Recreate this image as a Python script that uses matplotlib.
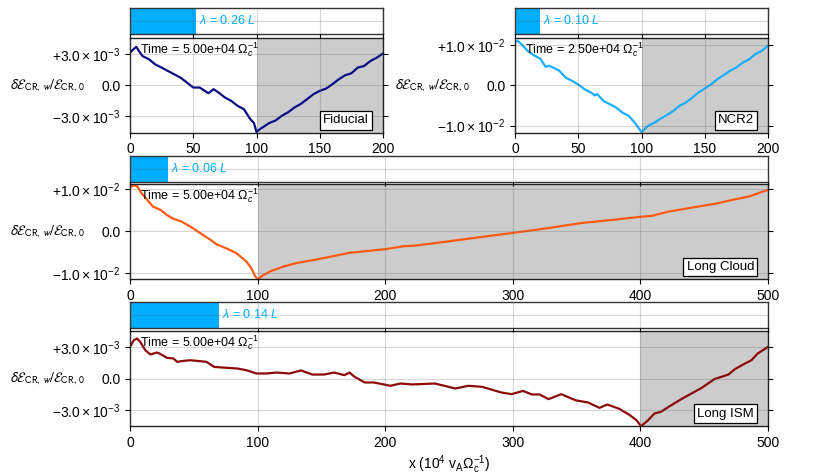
import numpy as np
import matplotlib
matplotlib.use("Agg")
import matplotlib.pyplot as plt
from matplotlib.ticker import FuncFormatter

plt.rcParams["font.family"] = ["Liberation Sans", "DejaVu Sans"]
plt.rcParams["mathtext.fontset"] = "custom"
plt.rcParams["mathtext.rm"] = "Liberation Sans"
plt.rcParams["mathtext.it"] = "Liberation Sans:italic"
plt.rcParams["mathtext.bf"] = "Liberation Sans:bold"
plt.rcParams["mathtext.sf"] = "Liberation Sans"
plt.rcParams["font.size"] = 9.5
plt.rcParams["axes.axisbelow"] = False

# ---- data (y in units of 1e-3 or 1e-2) ----
fid_x = [0, 3, 5, 7, 10, 15, 20, 25, 30, 35, 40, 45, 50, 55, 58, 62, 66, 70, 75,
         80, 85, 90, 95, 98, 100, 103, 105, 110, 115, 120, 125, 130, 135, 140,
         145, 150, 155, 160, 165, 170, 175, 180, 185, 190, 195, 200]
fid_y = np.array([3.13, 3.5, 3.7, 3.3, 2.8, 2.5, 2.0, 1.7, 1.37, 1.05, 0.73, 0.26,
                  -0.22, -0.22, -0.45, -0.77, -0.38, -0.70, -1.18, -1.5, -1.98,
                  -2.3, -3.25, -3.64, -4.5, -4.2, -4.05, -3.64, -3.4, -2.94, -2.6,
                  -2.14, -1.8, -1.34, -0.86, -0.54, -0.32, 0.1, 0.57, 0.96, 1.15,
                  1.7, 1.85, 2.33, 2.65, 3.06]) * 1e-3

ncr_x = [0, 2, 5, 10, 15, 20, 24, 27, 30, 35, 40, 45, 50, 55, 60, 63, 65, 70, 75,
         80, 85, 90, 95, 100, 105, 110, 115, 120, 125, 130, 135, 140, 145, 150,
         155, 160, 165, 170, 175, 180, 185, 190, 195, 200]
ncr_y = np.array([1.07, 1.10, 1.02, 0.85, 0.74, 0.66, 0.46, 0.48, 0.44, 0.36, 0.19,
                  0.11, 0.02, -0.10, -0.18, -0.25, -0.22, -0.39, -0.47, -0.55,
                  -0.68, -0.76, -0.94, -1.16, -1.01, -0.93, -0.83, -0.74, -0.64,
                  -0.51, -0.43, -0.31, -0.18, -0.08, 0.02, 0.15, 0.25, 0.36, 0.44,
                  0.56, 0.64, 0.77, 0.85, 0.98]) * 1e-2

cloud_x = [0, 3, 5.5, 9, 13, 18, 24, 29, 34, 40, 47, 55, 63, 68, 76, 83, 91, 95,
           98, 100, 104, 110, 121, 131, 146, 159, 172, 185, 201, 215, 223, 249,
           276, 299, 328, 354, 380, 401, 409, 422, 445, 461, 469, 485, 500]
cloud_y = np.array([1.05, 1.10, 1.08, 0.91, 0.77, 0.59, 0.51, 0.39, 0.30, 0.24,
                    0.12, -0.04, -0.20, -0.31, -0.41, -0.51, -0.71, -0.87, -1.06,
                    -1.14, -1.05, -0.95, -0.83, -0.75, -0.67, -0.59, -0.51, -0.47,
                    -0.42, -0.35, -0.34, -0.24, -0.13, -0.04, 0.08, 0.20, 0.28,
                    0.35, 0.37, 0.47, 0.59, 0.67, 0.73, 0.83, 0.99]) * 1e-2

ism_x = [0, 3, 5.5, 8, 12, 16, 21, 23, 29, 34, 37, 40, 47, 55, 60, 66, 76, 84, 91,
         99, 107, 115, 125, 134, 143, 152, 160, 168, 172, 176, 184, 191, 199, 204,
         212, 221, 239, 255, 265, 276, 291, 299, 308, 315, 321, 328, 338, 349,
         359, 368, 374, 383, 391, 397, 400.5, 406, 411, 416, 422, 432, 440, 448,
         458, 469, 474, 482, 487, 492, 500]
ism_y = np.array([3.03, 3.67, 3.83, 3.51, 2.71, 2.30, 2.49, 2.40, 1.98, 1.92, 1.59,
                  1.66, 1.75, 1.66, 1.59, 1.11, 1.02, 0.96, 0.80, 0.48, 0.48, 0.57,
                  0.48, 0.77, 0.38, 0.38, 0.57, 0.32, 0.57, 0.16, -0.38, -0.38,
                  -0.57, -0.70, -0.48, -0.57, -0.48, -0.96, -0.70, -0.80, -1.34,
                  -1.50, -1.19, -1.53, -1.53, -1.98, -1.50, -2.08, -2.30, -2.81,
                  -2.49, -2.88, -3.45, -4.0, -4.57, -4.0, -3.35, -3.2, -2.72,
                  -1.98, -1.44, -0.90, -0.06, 0.38, 0.89, 1.44, 1.75, 2.40,
                  3.03]) * 1e-3

names = ["Fiducial", "NCR2", "Long Cloud", "Long ISM"]
box_len = [200, 200, 500, 500]
lam_frac = [0.26, 0.10, 0.06, 0.14]
times = ["5.00e+04", "2.50e+04", "5.00e+04", "5.00e+04"]
shade = [(100, 200), (100, 200), (100, 500), (400, 500)]
ytick_val = [3e-3, 1e-2, 1e-2, 3e-3]
ylims = [4.55e-3, 1.17e-2, 1.14e-2, 4.55e-3]
xs = [fid_x, ncr_x, cloud_x, ism_x]
ys = [fid_y, ncr_y, cloud_y, ism_y]

colors = ["#0c0c86", "#1aaeff", "#ff5a14", "#8b0a0a"]
bar_color = "#00aeff"

W, H = 830, 475
# pixel rectangles (left, top, right, bottom) of main axes and bar axes
main_px = [(130, 38, 383, 132.5), (515, 38, 768, 132.5),
           (130, 183.5, 768, 279.3), (130, 331, 768, 426)]
bar_px = [(130, 8, 383, 34), (515, 8, 768, 34),
          (130, 156, 768, 182), (130, 302, 768, 328)]


def px_rect(r):
    l, t, rr, b = r
    return [l / W, 1 - b / H, (rr - l) / W, (b - t) / H]


def sci_fmt(v, pos):
    if abs(v) < 1e-12:
        return "0.0"
    e = int(np.floor(np.log10(abs(v)) + 1e-9))
    m = abs(v) / 10 ** e
    sign = "+" if v > 0 else "-"
    return rf"${sign}{m:.1f} \times 10^{{{e}}}$"


ylabel = r"$\delta\mathcal{E}_{\mathrm{CR},\,w}/\mathcal{E}_{\mathrm{CR},\,0}$"
grid_kw = dict(color="#606060", alpha=0.25, linewidth=0.8)

fig = plt.figure(figsize=(W / 100, H / 100), dpi=100)

for i in range(4):
    L = box_len[i]
    xticks = np.arange(0, L + 1, 50 if L == 200 else 100)

    ax = fig.add_axes(px_rect(main_px[i]))
    ax.axvspan(*shade[i], color="#cccccc", lw=0, zorder=0)
    ax.plot(xs[i], ys[i], color=colors[i], lw=1.6, zorder=2)
    ax.set_xlim(0, L)
    ax.set_ylim(-ylims[i], ylims[i])
    ax.set_xticks(xticks)
    ax.set_yticks([-ytick_val[i], 0, ytick_val[i]])
    ax.yaxis.set_major_formatter(FuncFormatter(sci_fmt))
    ax.tick_params(direction="out", length=3.5, right=True, labelsize=10)
    ax.grid(True, **grid_kw)
    for s in ax.spines.values():
        s.set_color("#222222")
        s.set_linewidth(1.0)
    width_px = main_px[i][2] - main_px[i][0]
    ax.set_ylabel(ylabel, rotation=0, ha="right", va="center", fontsize=10,
                  math_fontfamily="stixsans")
    ax.yaxis.set_label_coords(-45 / width_px, 0.5)

    ax.annotate("Time = " + times[i] + r" $\Omega_c^{-1}$", xy=(0, 1),
                xycoords="axes fraction", xytext=(7, -2),
                textcoords="offset points", ha="left", va="top", fontsize=9)
    ax.annotate(names[i], xy=(1, 0), xycoords="axes fraction",
                xytext=(-10, 4.5), textcoords="offset points",
                ha="right", va="bottom", fontsize=9.5,
                bbox=dict(boxstyle="square,pad=0.25", fc="white", ec="black", lw=0.9))

    bx = fig.add_axes(px_rect(bar_px[i]))
    bx.barh(0.5, lam_frac[i] * L, height=1.0, left=0, color=bar_color, zorder=1)
    bx.set_xlim(0, L)
    bx.set_ylim(0, 1)
    bx.set_xticks(xticks)
    bx.set_yticks([0.5])
    bx.tick_params(axis="x", direction="out", length=3, labelbottom=False)
    bx.tick_params(axis="y", length=0, labelleft=False)
    bx.grid(True, **grid_kw)
    for s in bx.spines.values():
        s.set_color("#333333")
        s.set_linewidth(1.0)
    bx.annotate(rf"$\lambda$ = {lam_frac[i]:.2f} $L$", xy=(lam_frac[i] * L, 0.5),
                xycoords="data", xytext=(2, 0), textcoords="offset points",
                ha="left", va="center", color=bar_color, fontsize=9)

    if i == 3:
        ax.set_xlabel(r"x ($10^4$ $\mathrm{v_A}\Omega_\mathrm{c}^{-1}$)", fontsize=10,
                      labelpad=3)

fig.savefig("out.png", dpi=100)
